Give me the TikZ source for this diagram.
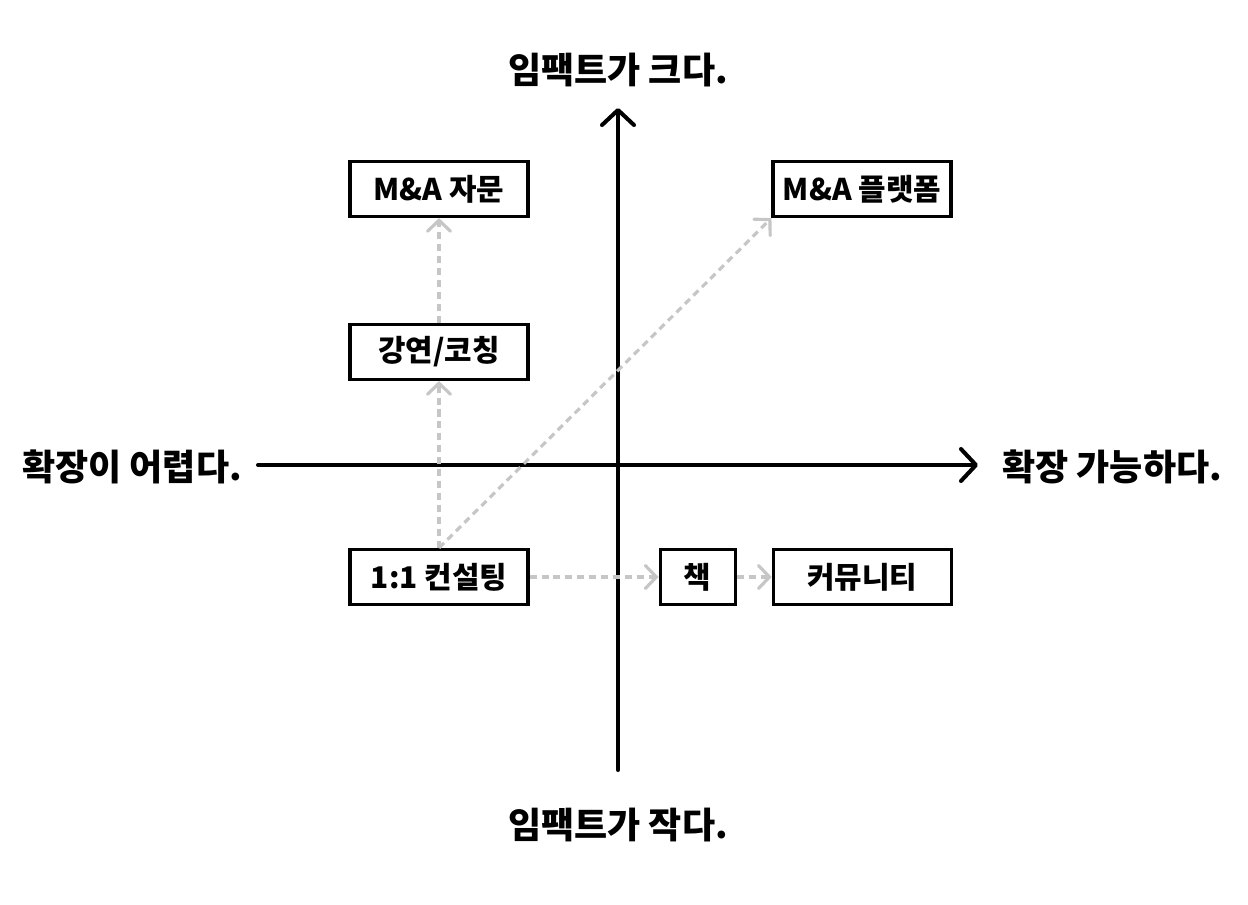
\documentclass[tikz,border=0pt]{standalone}
\usepackage{fontspec}
\setmainfont{Noto Sans CJK KR}
\usepackage{tikz}
\usetikzlibrary{arrows.meta,positioning}
\definecolor{dashgray}{HTML}{C6C6C6}

\begin{document}
\begin{tikzpicture}[
  x=0.02cm,y=-0.02cm,
  font=\bfseries\fontsize{17}{19}\selectfont,
  box/.style={draw,line width=1.8pt,minimum width=3.56cm,minimum height=1.1cm,inner sep=0pt},
  axis/.style={line width=2.3pt,line cap=round,-{Straight Barb[length=0.3cm,width=0.64cm,line cap=round,round]}},
  flow/.style={dashgray,line width=1.8pt,dash pattern=on 4pt off 2.8pt,-{Straight Barb[length=0.22cm,width=0.46cm,line cap=round]}},
  axlabel/.style={font=\bfseries\fontsize{20.5}{23}\selectfont}
]
\useasboundingbox (0,0) rectangle (1248,904);
% axes
\coordinate (west) at (258,465);
\coordinate (east) at (978,465);
\coordinate (south) at (618,770);
\coordinate (north) at (618,108);
\draw[axis] (west) -- (east);
\draw[axis] (south) -- (north);
\node[axlabel] (high) at (618,70) {임팩트가 크다.};
\node[axlabel] (low) at (618,825) {임팩트가 작다.};
\node[axlabel,anchor=east] (hard) at (248,467) {확장이 어렵다.};
\node[axlabel,anchor=west] (easy) at (996,467) {확장 가능하다.};
% boxes
\node[box] (consult) at (439,577) {1:1 컨설팅};
\node[box] (coach) at (439,352) {강연/코칭};
\node[box] (advice) at (439,189) {M\&A 자문};
\node[box,minimum width=1.5cm,right=2.58cm of consult] (book) {책};
\node[box,right=0.7cm of book] (community) {커뮤니티};
\node[box] (platform) at (862,189) {M\&A 플랫폼};
% paths
\draw[flow] (consult) -- (coach);
\draw[flow] (coach) -- (advice);
\draw[flow] (consult.north) -- (platform.south west);
\draw[flow] (consult) -- (book);
\draw[flow] (book) -- (community);
\end{tikzpicture}
\end{document}
